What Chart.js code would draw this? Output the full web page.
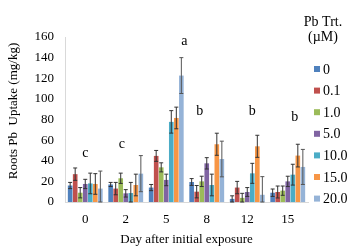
<!DOCTYPE html>
<html><head><meta charset="utf-8">
<script src="https://cdn.jsdelivr.net/npm/chart.js@4.4.1/dist/chart.umd.min.js"></script>
<style>html,body{margin:0;padding:0;background:#fff}#wrap{width:350px;height:251px;position:relative}</style>
</head><body><div id="wrap"><canvas id="c"></canvas></div>
<script>
const days = ["0","2","5","8","12","15"];
const treatments = ["0","0.1","1.0","5.0","10.0","15.0","20.0"];
const colors = ["#4F81BD","#C0504D","#9BBB59","#8064A2","#4BACC6","#F79646","#95B3D7"];
const yTicks = [0,20,40,60,80,100,120,140,160];
const sig = ["c","c","a","b","b","b"];
const sigY = [47,56,156,88,88,82];
const sigOffset = [0,-4,18,-7,5,7];
// values per treatment across days
const t0   = [16, 17, 14, 19.4, 3, 9];
const t01  = [27, 13, 44.7, 10, 14, 9.7];
const t10  = [9, 23, 33.6, 20, 4, 11];
const t50  = [17.5, 8.4, 21.4, 37.5, 9.7, 20];
const t100 = [18, 8.7, 77.7, 16.5, 27.8, 26.5];
const t150 = [17.5, 16.5, 81.5, 56, 54, 45];
const t200 = [13, 27.5, 122.6, 41.7, 7, 34];
// error bar half-lengths
const e0   = [3, 2, 3, 3.3, 3, 3.6];
const e01  = [6, 6, 5.3, 6, 6, 5.8];
const e10  = [5, 5, 4.4, 5, 4.4, 4.5];
const e50  = [4.5, 3.6, 5.6, 5.5, 4.3, 5];
const e100 = [10, 10.3, 10.9, 10.5, 9.7, 10.1];
const e150 = [10, 10.5, 10.5, 10.7, 10.7, 11];
const e200 = [17, 17.5, 17.4, 17.3, 17.6, 17];

const vals = [t0,t01,t10,t50,t100,t150,t200];
const errs = [e0,e01,e10,e50,e100,e150,e200];

const serif = "'Liberation Serif','Times New Roman',serif";

const errorPlugin = {
  id:'errs',
  afterDatasetsDraw(chart){
    const ctx = chart.ctx, y = chart.scales.y;
    ctx.save();
    chart.data.datasets.forEach((ds,i)=>{
      const meta = chart.getDatasetMeta(i);
      meta.data.forEach((bar,j)=>{
        const v = ds.data[j], e = errs[i][j];
        const yt = y.getPixelForValue(v+e), yb = y.getPixelForValue(Math.max(0,v-e));
        ctx.strokeStyle = i===6 ? '#555' : '#333';
        ctx.lineWidth = 1;
        ctx.beginPath();
        ctx.moveTo(bar.x, yt); ctx.lineTo(bar.x, yb);
        ctx.moveTo(bar.x-2, yt); ctx.lineTo(bar.x+2, yt);
        ctx.moveTo(bar.x-2, yb); ctx.lineTo(bar.x+2, yb);
        ctx.stroke();
      });
    });
    // significance letters
    const x = chart.scales.x;
    ctx.fillStyle = '#000';
    ctx.font = "14px " + serif;
    ctx.textAlign = 'center'; ctx.textBaseline = 'middle';
    sig.forEach((s,j)=>{
      ctx.fillText(s, x.getPixelForValue(j)+sigOffset[j], y.getPixelForValue(sigY[j]));
    });
    // y title
    ctx.save();
    ctx.translate(14, 111);
    ctx.rotate(-Math.PI/2);
    ctx.font = "13px " + serif;
    ctx.fillText('Roots Pb  Uptake (mg/kg)', 0, 0);
    ctx.restore();
    // legend
    ctx.font = "14px " + serif;
    ctx.textAlign = 'center';
    ctx.fillText("Pb Trt.", 323, 22);
    ctx.fillText("(\u00B5M)", 323, 37);
    ctx.textAlign = 'left';
    treatments.forEach((t,i)=>{
      const cy = 69 + i*21.6;
      ctx.fillStyle = colors[i];
      ctx.fillRect(314, cy-3, 6, 6);
      ctx.fillStyle = '#000';
      ctx.fillText(t, 323, cy+1);
    });
    ctx.restore();
  }
};

new Chart(document.getElementById('c'), {
  type:'bar',
  data:{
    labels: days,
    datasets: treatments.map((t,i)=>({
      label:t, data:vals[i], backgroundColor:colors[i], borderWidth:0
    }))
  },
  options:{
    responsive:true, maintainAspectRatio:false, animation:false,
    devicePixelRatio:1,
    layout:{padding:{top:37,right:42,left:0,bottom:0}},
    plugins:{legend:{display:false},tooltip:{enabled:false}},
    datasets:{bar:{categoryPercentage:0.87,barPercentage:0.92}},
    scales:{
      x:{
        grid:{display:false,drawTicks:false},
        border:{display:true,color:'#d9d9d9'},
        ticks:{padding:10,color:'#000',font:{family:serif,size:13}},
        title:{display:true,text:'Day after initial exposure',color:'#000',font:{family:serif,size:13},padding:{top:2}},
        afterFit(s){s.height=49;}
      },
      y:{
        min:0,max:160,
        afterBuildTicks(s){s.ticks = yTicks.map(v=>({value:v}));},
        grid:{display:false,drawTicks:false},
        border:{display:true,color:'#d9d9d9'},
        ticks:{padding:11,color:'#000',font:{family:serif,size:13}},
        title:{display:false},
        afterFit(s){s.width=65;}
      }
    }
  },
  plugins:[errorPlugin]
});
</script></body></html>
